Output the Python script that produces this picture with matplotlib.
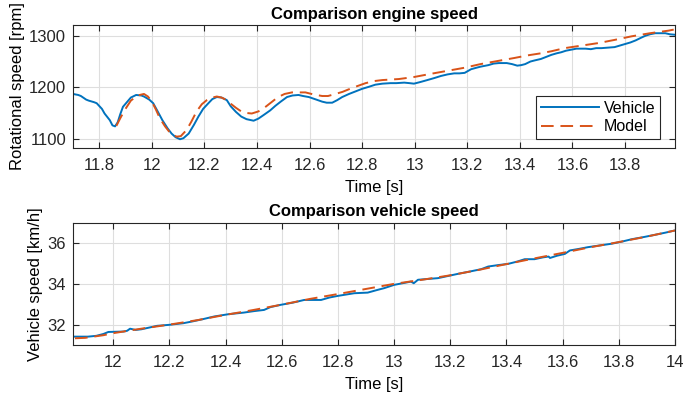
import matplotlib.pyplot as plt
from matplotlib.ticker import FormatStrFormatter

# ---- data ----
veh_t = [11.70, 11.72, 11.73, 11.75, 11.76, 11.78, 11.79, 11.81, 11.82, 11.84,
         11.85, 11.86, 11.87, 11.88, 11.89, 11.91, 11.92, 11.94, 11.96, 11.97,
         11.99, 12.005, 12.02, 12.04, 12.06, 12.075, 12.09, 12.107, 12.12, 12.14,
         12.16, 12.177, 12.195, 12.215, 12.23, 12.247, 12.265, 12.285, 12.30, 12.32,
         12.34, 12.36, 12.387, 12.405, 12.425, 12.45, 12.47, 12.49, 12.514, 12.535,
         12.558, 12.575, 12.597, 12.62, 12.648, 12.665, 12.686, 12.705, 12.724, 12.75,
         12.775, 12.80, 12.826, 12.85, 12.877, 12.908, 12.93, 12.96, 12.98, 12.997,
         13.02, 13.048, 13.075, 13.10, 13.125, 13.15, 13.17, 13.19, 13.214, 13.235,
         13.25, 13.28, 13.30, 13.32, 13.35, 13.37, 13.39, 13.405, 13.42, 13.44,
         13.455, 13.48, 13.50, 13.52, 13.54, 13.557, 13.575, 13.595, 13.615, 13.634,
         13.65, 13.67, 13.69, 13.71, 13.735, 13.76, 13.78, 13.80, 13.82, 13.84,
         13.86, 13.877, 13.895, 13.915, 13.935, 13.953, 13.97, 13.99]
veh_rpm = [1187, 1185, 1183, 1176, 1174, 1171, 1169, 1158, 1149, 1136,
           1126, 1124, 1132, 1148, 1162, 1174, 1180, 1185, 1184, 1182,
           1176, 1169, 1155, 1136, 1120, 1110, 1103, 1099, 1101, 1110,
           1127, 1143, 1158, 1169, 1177, 1181, 1180, 1175, 1163, 1152,
           1143, 1138, 1135, 1139, 1146, 1155, 1164, 1172, 1181, 1184,
           1185, 1183, 1181, 1177, 1172, 1170, 1170, 1175, 1181, 1187,
           1192, 1197, 1201, 1205, 1207, 1208, 1208, 1209, 1208, 1207,
           1210, 1214, 1218, 1222, 1225, 1227, 1227, 1228, 1235, 1238,
           1240, 1243, 1246, 1247, 1247, 1245, 1242, 1243, 1245, 1250,
           1252, 1255, 1259, 1263, 1266, 1268, 1271, 1273, 1275, 1275,
           1275, 1274, 1276, 1276, 1277, 1278, 1281, 1284, 1287, 1291,
           1296, 1300, 1303, 1305, 1305, 1305, 1303, 1302]

mod_t = [11.865, 11.88, 11.897, 11.92, 11.945, 11.97, 11.985, 12.00, 12.015, 12.03,
         12.05, 12.07, 12.094, 12.11, 12.132, 12.15, 12.17, 12.19, 12.209, 12.23,
         12.247, 12.265, 12.285, 12.30, 12.32, 12.34, 12.36, 12.38, 12.405, 12.43,
         12.455, 12.48, 12.505, 12.533, 12.56, 12.584, 12.615, 12.648, 12.67, 12.698,
         12.725, 12.749, 12.78, 12.813, 12.845, 12.877, 12.94, 12.998, 13.06, 13.125,
         13.19, 13.25, 13.315, 13.38, 13.43, 13.48, 13.52, 13.57, 13.635, 13.70,
         13.76, 13.825, 13.895, 13.965, 13.985]
mod_rpm = [1125, 1140, 1156, 1174, 1184, 1187, 1182, 1172, 1157, 1140,
           1124, 1111, 1104, 1105, 1117, 1133, 1153, 1167, 1175, 1180,
           1182, 1180, 1175, 1168, 1160, 1153, 1150, 1149, 1153, 1161,
           1171, 1181, 1187, 1190, 1190, 1190, 1186, 1183, 1183, 1187,
           1191, 1196, 1202, 1208, 1212, 1214, 1216, 1220, 1226, 1232,
           1238, 1245, 1251, 1257, 1262, 1266, 1270, 1276, 1281, 1286,
           1292, 1299, 1305, 1310, 1312]

vs_t = [11.858, 11.91, 11.94, 11.965, 11.983, 12.037, 12.05, 12.06, 12.08, 12.10,
        12.13, 12.156, 12.20, 12.25, 12.28, 12.32, 12.36, 12.41, 12.465, 12.50,
        12.537, 12.56, 12.596, 12.64, 12.68, 12.74, 12.77, 12.80, 12.858, 12.906,
        12.94, 12.965, 13.0, 13.03, 13.06, 13.07, 13.085, 13.12, 13.156, 13.19,
        13.227, 13.275, 13.31, 13.335, 13.37, 13.406, 13.44, 13.465, 13.50, 13.53,
        13.55, 13.555, 13.58, 13.608, 13.626, 13.66, 13.69, 13.73, 13.775, 13.81,
        13.846, 13.89, 13.93, 13.965, 14.0]
vs_veh = [31.41, 31.41, 31.45, 31.54, 31.64, 31.66, 31.70, 31.80, 31.74, 31.77,
          31.86, 31.94, 31.99, 32.07, 32.15, 32.27, 32.40, 32.51, 32.59, 32.66,
          32.72, 32.86, 32.97, 33.08, 33.21, 33.21, 33.33, 33.41, 33.54, 33.57,
          33.70, 33.79, 33.95, 34.03, 34.11, 34.03, 34.20, 34.24, 34.28, 34.38,
          34.49, 34.62, 34.72, 34.85, 34.92, 34.98, 35.10, 35.21, 35.21, 35.30,
          35.34, 35.27, 35.38, 35.47, 35.64, 35.72, 35.80, 35.88, 35.97, 36.07,
          36.19, 36.30, 36.41, 36.51, 36.62]

vm_t = [11.864, 11.90, 11.965, 12.0, 12.1, 12.2, 12.3, 12.4, 12.5, 12.6, 12.7, 12.8,
        12.9, 13.0, 13.1, 13.2, 13.3, 13.4, 13.5, 13.6, 13.7, 13.8, 13.9, 14.0]
vs_mod = [31.33, 31.35, 31.48, 31.58, 31.80, 32.00, 32.22, 32.48, 32.72, 32.98, 33.26, 33.50,
          33.75, 34.00, 34.20, 34.42, 34.68, 34.97, 35.25, 35.52, 35.80, 36.05, 36.32, 36.62]

# ---- style (MATLAB-like) ----
plt.rcParams['font.family'] = ['Liberation Sans', 'DejaVu Sans']
plt.rcParams['font.size'] = 12
blue = '#0072BD'
orange = '#D95319'
dark = '#262626'

fig = plt.figure(figsize=(7, 3.96), dpi=100)
ax1 = fig.add_axes([0.1043, 0.6263, 0.86, 0.3106])
ax2 = fig.add_axes([0.1043, 0.1288, 0.86, 0.3088])

ax1.plot(veh_t, veh_rpm, color=blue, lw=1.4, label='Vehicle')
ax1.plot(mod_t, mod_rpm, color=orange, lw=1.4, ls=(0, (6.5, 3.5)), label='Model')
ax1.set_xlim(11.7, 13.99)
ax1.set_ylim(1082, 1321)
ax1.set_xticks([11.8, 12.0, 12.2, 12.4, 12.6, 12.8, 13.0, 13.2, 13.4, 13.6, 13.8])
ax1.set_yticks([1100, 1200, 1300])
ax1.set_title('Comparison engine speed', fontweight='bold', fontsize=12, pad=4)
ax1.set_xlabel('Time [s]', fontsize=12, labelpad=5)
ax1.set_ylabel('Rotational speed [rpm]', fontsize=12, labelpad=3)
leg = ax1.legend(loc='lower right', bbox_to_anchor=(0.975, 0.073), borderaxespad=0,
                 fancybox=False, edgecolor=dark, framealpha=1, handlelength=3.6,
                 handletextpad=0.3, borderpad=0.3, labelspacing=0.2, fontsize=11.5)
leg.get_frame().set_linewidth(0.8)

ax2.plot(vs_t, vs_veh, color=blue, lw=1.4)
ax2.plot(vm_t, vs_mod, color=orange, lw=1.4, ls=(0, (6.5, 3.5)))
ax2.set_xlim(11.857, 14.0)
ax2.set_ylim(31, 37)
ax2.set_xticks([12.0, 12.2, 12.4, 12.6, 12.8, 13.0, 13.2, 13.4, 13.6, 13.8, 14.0])
ax2.set_yticks([32, 34, 36])
ax2.set_title('Comparison vehicle speed', fontweight='bold', fontsize=12, pad=5)
ax2.set_xlabel('Time [s]', fontsize=12, labelpad=5)
ax2.set_ylabel('Vehicle speed [km/h]', fontsize=12, labelpad=3)

for ax in (ax1, ax2):
    ax.xaxis.set_major_formatter(FormatStrFormatter('%g'))
    ax.grid(True, color='#dedede', lw=0.8)
    ax.set_axisbelow(True)
    ax.tick_params(direction='in', top=True, right=True, length=4,
                   colors=dark, labelsize=12, width=0.8, pad=5)
    ax.tick_params(axis='x', pad=7)
    for s in ax.spines.values():
        s.set_color(dark)
        s.set_linewidth(0.8)

fig.savefig('out.png', dpi=100)
